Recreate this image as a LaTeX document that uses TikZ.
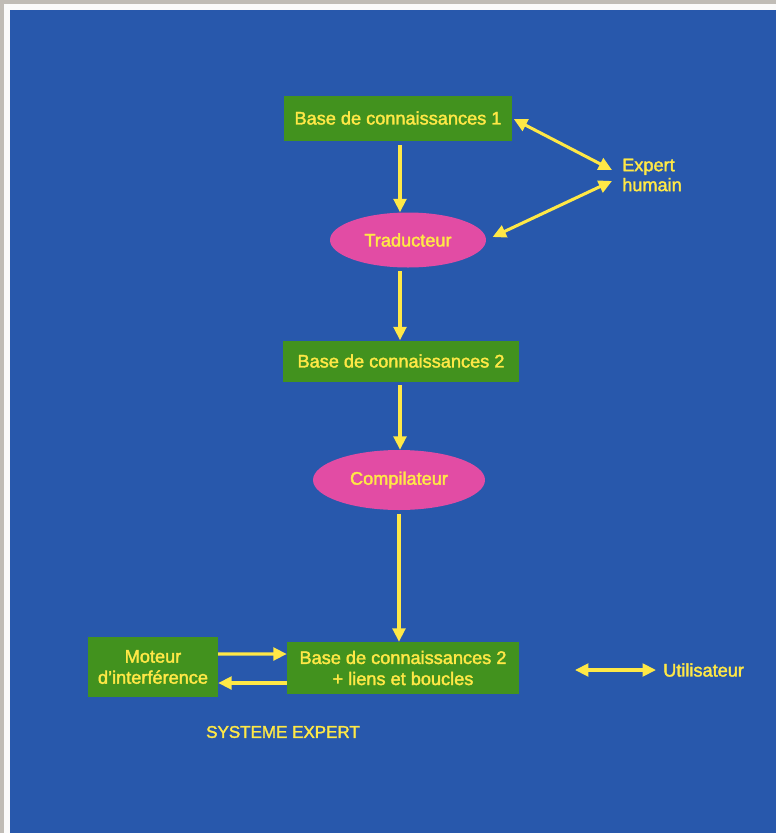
\documentclass[tikz,border=0pt]{standalone}
\usepackage{fontspec}
\setmainfont{Liberation Sans}[FakeBold=2]
\usetikzlibrary{arrows.meta,shapes.geometric}
\definecolor{bgblue}{RGB}{40,88,172}
\definecolor{boxgreen}{RGB}{66,146,30}
\definecolor{ovalpink}{RGB}{226,76,164}
\definecolor{txtyellow}{RGB}{255,232,70}
\definecolor{framegrey}{RGB}{192,188,182}

\begin{document}
\begin{tikzpicture}[x=0.03cm,y=-0.03cm]
\tikzset{
  kbox/.style={rectangle,fill=boxgreen,text=txtyellow,inner sep=1pt,align=center,font=\fontsize{15.5}{18}\selectfont},
  koval/.style={ellipse,fill=ovalpink,text=txtyellow,inner sep=1pt,font=\fontsize{15.5}{18}\selectfont},
  klabel/.style={text=txtyellow,inner sep=0pt,align=left,font=\fontsize{15.5}{17}\selectfont},
  flow/.style={draw=txtyellow,line width=2.6pt,-{Triangle[length=4mm,width=3.8mm]}},
  twoway/.style={draw=txtyellow,line width=2.6pt,{Triangle[length=4mm,width=3.8mm]}-{Triangle[length=4mm,width=3.8mm]}}
}
% frame and background
\fill[framegrey] (0,0) rectangle (776,833);
\fill[white!94!framegrey] (4,4) rectangle (776,833);
\fill[bgblue] (10,10) rectangle (776,833);
\useasboundingbox (0,0) rectangle (776,833);
% nodes
\node[kbox,minimum width=6.81cm,minimum height=1.35cm] (n_base1) at (398,118) {Base de connaissances 1};
\node[koval,minimum width=4.68cm,minimum height=1.65cm] (n_trad) at (408,240) {Traducteur};
\node[kbox,minimum width=7.08cm,minimum height=1.23cm] (n_base2) at (401,361) {Base de connaissances 2};
\node[koval,minimum width=5.16cm,minimum height=1.8cm] (n_comp) at (399,480) {Compilateur};
\node[kbox,minimum width=6.96cm,minimum height=1.56cm] (n_base3) at (403,668) {Base de connaissances 2\\+ liens et boucles};
\node[kbox,minimum width=3.9cm,minimum height=1.8cm] (n_moteur) at (153,667) {Moteur\\d'interférence};
\node[klabel,anchor=west] (n_expert) at (622,175) {Expert\\humain};
\node[klabel,anchor=west] (n_user) at (663,670) {Utilisateur};
\node[klabel,font=\fontsize{14.5}{17}\selectfont] (n_title) at (283,732) {SYSTEME EXPERT};
\coordinate (c_exp1) at (612,170);
\coordinate (c_exp2) at (612,181);
\coordinate (c_user) at (575,670);
% connectors
\draw[flow,shorten <=4pt] (n_base1.south -| 400,0) -- (n_trad.north -| 400,0);
\draw[flow,shorten <=3pt] (n_trad.south -| 400,0) -- (n_base2.north -| 400,0);
\draw[flow,shorten <=3pt] (n_base2.south -| 400,0) -- (n_comp.north -| 400,0);
\draw[flow,shorten <=3pt] (n_comp.south -| 399,0) -- (n_base3.north -| 399,0);
\draw[twoway,shorten <=2pt] (n_base1.east) -- (c_exp1);
\draw[twoway,shorten <=6pt] (n_trad.east) -- (c_exp2);
\draw[flow] ([yshift=0.39cm]n_moteur.east) -- ([yshift=0.42cm]n_base3.west);
\draw[flow] ([yshift=-0.45cm]n_base3.west) -- ([yshift=-0.48cm]n_moteur.east);
\draw[twoway,shorten >=6pt] (c_user) -- (n_user.west);
\end{tikzpicture}
\end{document}
